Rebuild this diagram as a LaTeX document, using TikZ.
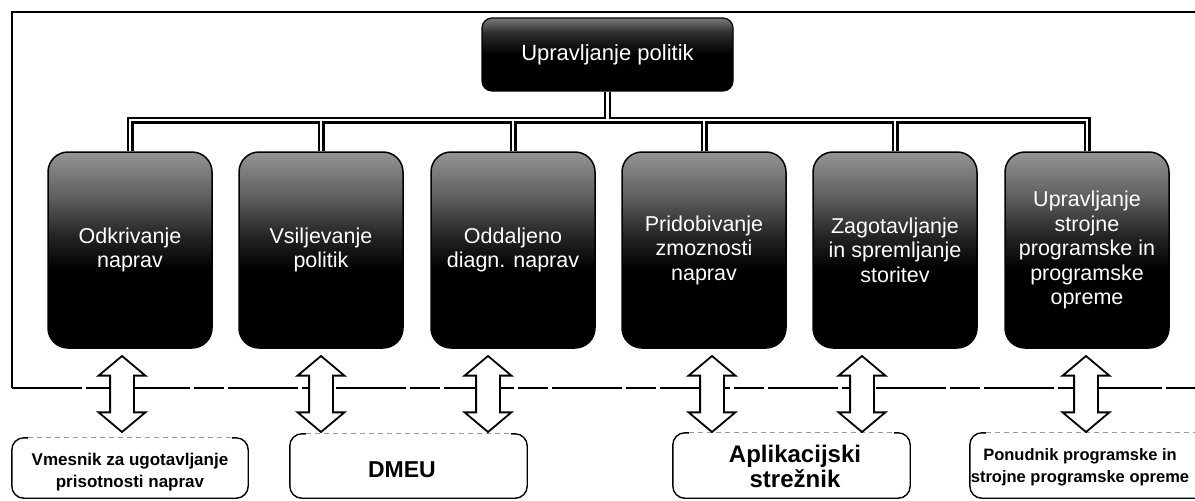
\documentclass[tikz,border=0pt]{standalone}
\usepackage{fontspec}
\setmainfont{Liberation Sans}
\usetikzlibrary{shapes.arrows,backgrounds,calc}

% dark tiles: grey at the top, fading into black
\pgfdeclareverticalshading{tileshade}{100bp}{color(0bp)=(black); color(25bp)=(black); color(45bp)=(black); color(54bp)=(black!85); color(64bp)=(black!62); color(75bp)=(black!42); color(100bp)=(black!42)}
\pgfdeclareverticalshading{headshade}{100bp}{color(0bp)=(black); color(25bp)=(black); color(50bp)=(black); color(65bp)=(black!82); color(75bp)=(black!52); color(100bp)=(black!52)}

\tikzset{
  headbox/.style={shade, shading=headshade, draw=black, line width=1.2pt, rounded corners=10pt,
    minimum width=251pt, minimum height=73pt, inner sep=0pt, text=white,
    font=\fontsize{22}{26}\selectfont},
  tile/.style={shade, shading=tileshade, draw=black, line width=1.5pt, rounded corners=20pt,
    minimum width=164pt, minimum height=196pt, inner sep=0pt, text=white, align=center,
    font=\fontsize{21.5}{24.5}\selectfont},
  darrow/.style={double arrow, draw=black, line width=1.8pt, fill=white, rotate=90,
    minimum height=76pt, inner xsep=0pt, inner ysep=11pt,
    double arrow head extend=11.5pt, double arrow tip angle=100},
  hostbox/.style={draw=none, fill=white, inner sep=0pt},
  hostedge/.style={line width=1.4pt, rounded corners=12pt},
  hosttop/.style={black!40, line width=0.8pt, dash pattern=on 5pt off 4pt},
  hosttext/.style={align=center, font=\bfseries\fontsize{17}{22}\selectfont, inner sep=0pt},
}

\begin{document}
\begin{tikzpicture}[x=1pt,y=-1pt]
\useasboundingbox (0,0) rectangle (1195,501);
\clip (0,0) rectangle (1195,501);

% management frame
\draw[line width=2.8pt] (1215,12) -- (12,12) -- (12,388);
\draw[line width=2pt, dash pattern=on 70pt off 4pt on 30pt off 4pt] (12,388) -- (1215,388);

% root
\node[headbox] (head) at (607.5,54.5) {Upravljanje politik};
\coordinate (bus) at (607.5,120);

% functions
\node[tile] (t1) at (130,250)  {Odkrivanje\\naprav};
\node[tile] (t2) at (321,250)  {Vsiljevanje\\politik};
\node[tile] (t3) at (513,250)  {Oddaljeno\\diagn. naprav};
\node[tile] (t4) at (704,250)  {Pridobivanje\\zmoznosti\\naprav};
\node[tile] (t5) at (895,250)  {Zagotavljanje\\in spremljanje\\storitev};
\node[tile] (t6) at (1087,250) {Upravljanje\\strojne\\programske in\\programske\\opreme};

% tree connectors, drawn as hollow double lines
\begin{scope}[on background layer]
\foreach \w/\c in {7pt/black,2.4pt/white}{
  \draw[line width=\w, draw=\c, line join=miter]
    (head.south) -- (bus)
    (t1.north) |- (bus) -| (t6.north)
    (t2.north) -- (t2.north |- bus)
    (t3.north) -- (t3.north |- bus)
    (t4.north) -- (t4.north |- bus)
    (t5.north) -- (t5.north |- bus);
}
\end{scope}

% external components
\node[hostbox, minimum width=236pt, minimum height=60pt] (hA) at (130,468) {};
\node[hostbox, minimum width=237pt, minimum height=64pt] (hB) at (408.5,466) {};
\node[hostbox, minimum width=237pt, minimum height=65pt] (hC) at (791.5,465.5) {};
\node[hostbox, minimum width=245pt, minimum height=65pt] (hD) at (1092.5,465.5) {};
\foreach \n in {hA,hB,hC,hD}{
  \draw[hostedge] ($(\n.north west)+(16pt,0pt)$) -- (\n.north west) -- (\n.south west)
    -- (\n.south east) -- (\n.north east) -- ($(\n.north east)+(-16pt,0pt)$);
  \draw[hosttop] ($(\n.north west)+(16pt,0pt)$) -- ($(\n.north east)+(-16pt,0pt)$);
}
\node[hosttext] (tA) at (130,472) {Vmesnik za ugotavljanje\\prisotnosti naprav};
\node[hosttext, font=\bfseries\fontsize{23}{26}\selectfont] (tB) at (402,470) {DMEU};
\node[hosttext, font=\bfseries\fontsize{24}{25}\selectfont] (tC) at (795,466) {Aplikacijski\\strežnik};
\node[hosttext, font=\bfseries\fontsize{16.5}{22}\selectfont] (tD) at (1080,467) {Ponudnik programske in\\strojne programske opreme};

% two-way links between functions and components
\node[darrow] (ar1) at (122,394)  {};
\node[darrow] (ar2) at (321,394)  {};
\node[darrow] (ar3) at (488,394)  {};
\node[darrow] (ar4) at (712,394)  {};
\node[darrow] (ar5) at (862,394)  {};
\node[darrow] (ar6) at (1086,394) {};
\end{tikzpicture}
\end{document}
